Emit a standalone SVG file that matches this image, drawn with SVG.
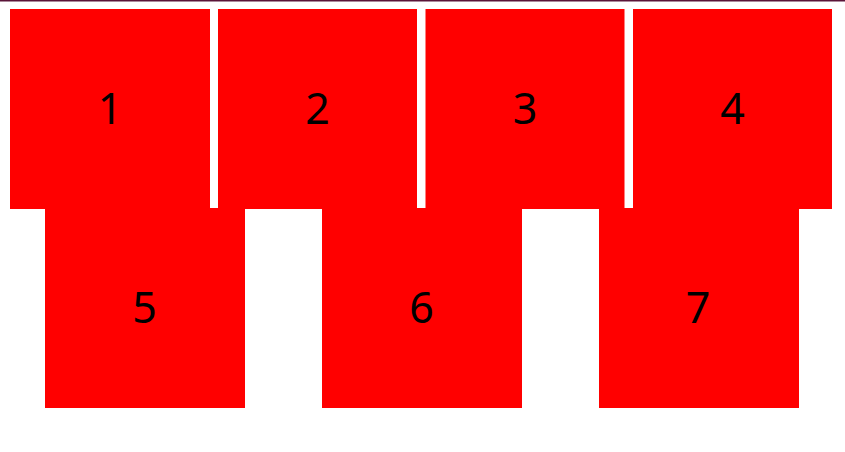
<svg xmlns="http://www.w3.org/2000/svg" width="845" height="452" viewBox="0 0 845 452">
<style>
.box{fill:#ff0000;}
.lbl{font-family:"Noto Sans","Open Sans",sans-serif;font-size:43px;fill:#000;text-anchor:middle;}
</style>
<rect x="0" y="0" width="845" height="452" fill="#ffffff"/>
<rect x="0" y="0" width="845" height="1.5" fill="#5a1438"/>
<g id="node1"><rect class="box" x="10" y="9" width="200" height="200"/><text class="lbl" x="110" y="124">1</text></g>
<g id="node2"><rect class="box" x="218" y="9" width="199" height="200"/><text class="lbl" x="317.5" y="124">2</text></g>
<g id="node3"><rect class="box" x="425.5" y="9" width="199" height="200"/><text class="lbl" x="525" y="124">3</text></g>
<g id="node4"><rect class="box" x="633" y="9" width="199" height="200"/><text class="lbl" x="732.5" y="124">4</text></g>
<g id="node5"><rect class="box" x="45" y="208" width="200" height="200"/><text class="lbl" x="144.5" y="323">5</text></g>
<g id="node6"><rect class="box" x="322" y="208" width="200" height="200"/><text class="lbl" x="421.5" y="323">6</text></g>
<g id="node7"><rect class="box" x="599" y="208" width="200" height="200"/><text class="lbl" x="698" y="323">7</text></g>
<g id="connectors"></g>
</svg>
